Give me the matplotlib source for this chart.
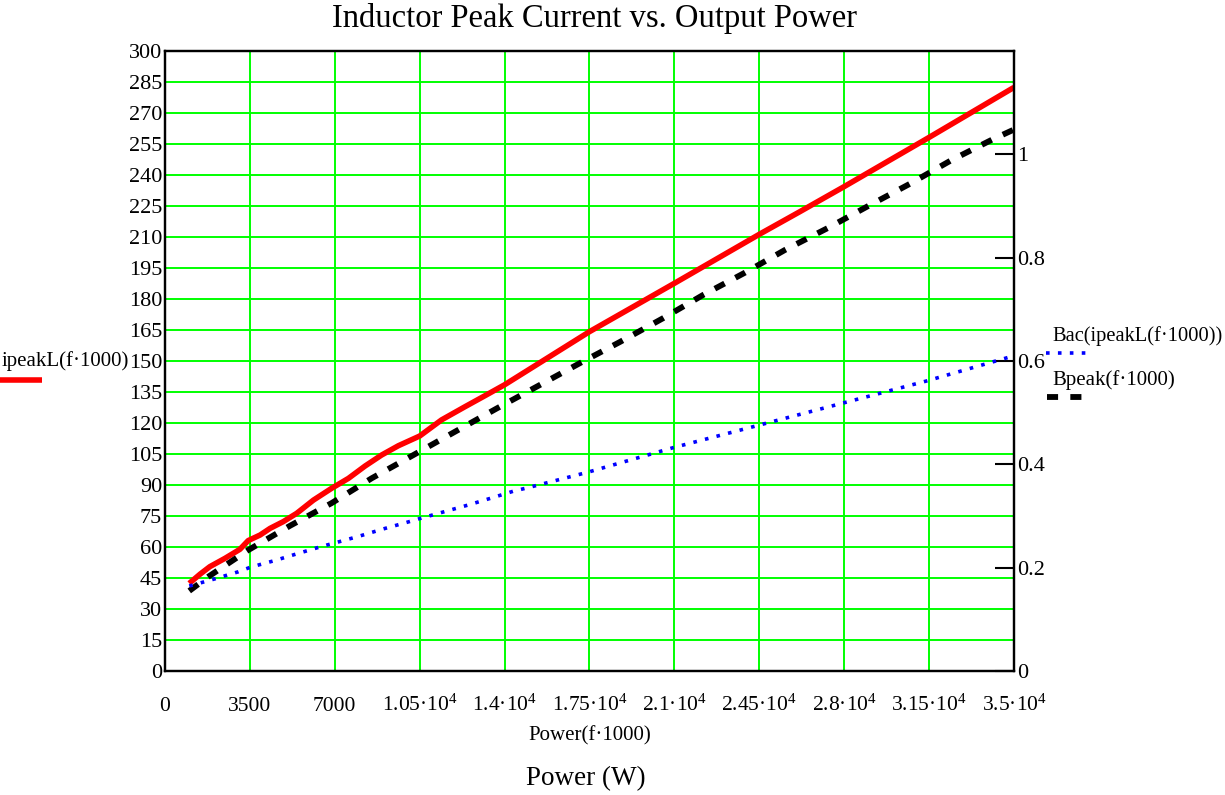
import matplotlib.pyplot as plt
import numpy as np
from matplotlib.lines import Line2D

plt.rcParams["font.family"] = ["Liberation Serif", "DejaVu Serif"]
plt.rcParams["mathtext.fontset"] = "custom"
plt.rcParams["mathtext.rm"] = "Liberation Serif"
plt.rcParams["mathtext.default"] = "regular"

# inductor peak current [A] vs output power [W]
ipeak_power = [1000, 1450, 1850, 2470, 3090, 3430, 3920, 4330, 4880, 5430,
               6120, 6870, 7560, 8250, 8930, 9620, 10500, 11400, 12370, 13190,
               14000, 17500, 21000, 24500, 26180, 28000, 31500, 35000]
ipeak_amps = [42.4, 46.9, 50.5, 54.5, 58.9, 63.1, 65.8, 69.0, 72.3, 76.3,
              82.7, 88.4, 93.2, 99.2, 104.5, 109.0, 113.7, 121.5, 127.9, 133.2,
              138.5, 164.2, 187.6, 211.3, 222.3, 234.4, 258.2, 282.4]

# peak flux density [T]
bpeak_power = [1000, 1800, 3430, 5150, 6870, 8520, 10240, 11950, 13670, 15390,
               17110, 18760, 20540, 22190, 23910, 25560, 27350, 29030, 30710,
               32430, 34120, 35000]
bpeak_tesla = [0.155, 0.183, 0.234, 0.281, 0.325, 0.373, 0.418, 0.463, 0.508,
               0.552, 0.596, 0.637, 0.683, 0.728, 0.771, 0.815, 0.858, 0.901,
               0.943, 0.989, 1.029, 1.048]

# AC flux swing [T]
bac_power = [1000, 2030, 3020, 3530, 4540, 5520, 6530, 7010, 8010, 9000, 9990,
             10500, 11490, 12480, 13470, 14360, 14980, 17450, 20930, 24420,
             27900, 31370, 34840]
bac_tesla = [0.1645, 0.178, 0.192, 0.201, 0.214, 0.228, 0.242, 0.248, 0.261,
             0.275, 0.288, 0.295, 0.308, 0.321, 0.335, 0.348, 0.355, 0.385,
             0.432, 0.475, 0.518, 0.561, 0.608]

x_ticks = np.arange(0, 35001, 3500)
x_tick_labels = ["0", "3500", "7000", r"$1.05·10^{4}$", r"$1.4·10^{4}$",
                 r"$1.75·10^{4}$", r"$2.1·10^{4}$", r"$2.45·10^{4}$",
                 r"$2.8·10^{4}$", r"$3.15·10^{4}$", r"$3.5·10^{4}$"]
left_ticks = np.arange(0, 301, 15)
right_ticks = [0, 0.2, 0.4, 0.6, 0.8, 1.0]
right_tick_labels = ["0", "0.2", "0.4", "0.6", "0.8", "1"]

W, H = 1225, 795


def px(x, y):
    return x / W, 1 - y / H


fig = plt.figure(figsize=(W / 100, H / 100), dpi=100)
ax = fig.add_axes([165 / W, 1 - 671 / H, (1014 - 165) / W, (671 - 51) / H])
ax2 = ax.twinx()

ax.plot(ipeak_power, ipeak_amps, color="#ff0000", lw=4, solid_capstyle="butt")
ax2.plot(bpeak_power, bpeak_tesla, color="black", lw=4.2,
         linestyle=(0, (1.9, 2.1)), dash_capstyle="butt")
ax2.plot(bac_power, bac_tesla, color="#0000ff", lw=2.6,
         linestyle=(0, (1, 2.3)))

ax.set_xlim(0, 35000)
ax.set_ylim(0, 300)
ax2.set_ylim(0, 1.2)

ax.set_xticks(x_ticks)
ax.set_xticklabels(x_tick_labels)
ax.set_yticks(left_ticks)
ax.set_yticklabels([str(v) for v in left_ticks])
ax2.set_yticks(right_ticks)
ax2.set_yticklabels(right_tick_labels)

ax.grid(True, color="#00ff00", lw=1.4)
ax.set_axisbelow(True)

ax.tick_params(axis="x", length=0, pad=29, labelsize=15.5)
for lbl in ax.get_xticklabels():
    lbl.set_verticalalignment("baseline")
ax.tick_params(axis="y", length=0, pad=2, labelsize=16)
ax2.tick_params(axis="y", direction="in", length=14, width=1.5, pad=2,
                labelsize=16)

for a in (ax, ax2):
    for sp in a.spines.values():
        sp.set_color("black")
        sp.set_linewidth(1.6)

fig.text(*px(594, 18), "Inductor Peak Current vs. Output Power",
         fontsize=23.5, ha="center", va="center")
fig.text(*px(590, 736), "Power(f·1000)", fontsize=15, ha="center", va="center")
fig.text(*px(586, 779), "Power (W)", fontsize=19.5, ha="center", va="center")

# series keys beside the axes
fig.text(*px(2, 361), "ipeakL(f·1000)", fontsize=15, ha="left", va="center")
fig.add_artist(Line2D([0 / W, 42 / W], [1 - 380 / H] * 2, color="#ff0000",
                      lw=4, solid_capstyle="butt", transform=fig.transFigure))

fig.text(*px(1052, 336), "Bac(ipeakL(f·1000))", fontsize=14.8, ha="left",
         va="center")
fig.add_artist(Line2D([1046 / W, 1086 / W], [1 - 353 / H] * 2, color="#0000ff",
                      lw=2.6, linestyle=(0, (1, 2.3)),
                      transform=fig.transFigure))

fig.text(*px(1052, 380), "Bpeak(f·1000)", fontsize=15, ha="left",
         va="center")
fig.add_artist(Line2D([1047 / W, 1090 / W], [1 - 397 / H] * 2, color="black",
                      lw=4.2, linestyle=(0, (1.9, 2.1)), dash_capstyle="butt",
                      transform=fig.transFigure))

fig.savefig("out.png", dpi=100)
